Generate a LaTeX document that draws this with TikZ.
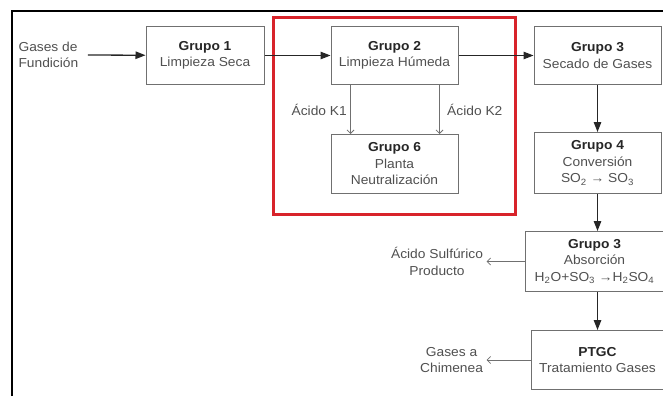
\documentclass[tikz,border=0pt]{standalone}
\usepackage{fontspec}
\setmainfont{Liberation Sans}[FakeStretch=1.06]
\usetikzlibrary{positioning,arrows.meta}
\definecolor{boxgray}{HTML}{707070}
\definecolor{txtgray}{HTML}{505050}
\definecolor{framered}{HTML}{D8232A}
\newcommand{\grtitle}[1]{\textcolor{black!85}{\textbf{#1}}}

\begin{document}
\begin{tikzpicture}[x=1pt,y=-1pt,
        font=\fontsize{13}{16.5}\selectfont,
        grupo/.style={draw=boxgray,line width=1pt,align=center,inner sep=0pt,
            minimum width=127pt,minimum height=58pt,text=txtgray},
        note/.style={align=center,text=txtgray},
        flow/.style={-{Triangle[length=10pt,width=7.5pt]},line width=1.3pt,draw=black!85},
        side/.style={-{Straight Barb[length=3.5pt,width=7pt]},draw=boxgray,line width=0.8pt}]
    \useasboundingbox (0,0) rectangle (663,396);
    \draw[line width=2.5pt] (12,396) -- (12,11) -- (663,11);

    \node[grupo,minimum width=118pt] (g1) at (205,55.5) {\grtitle{Grupo 1}\\Limpieza Seca};
    \node[grupo] (g2) [right=66pt of g1] {\grtitle{Grupo 2}\\Limpieza Húmeda};
    \node[grupo] (g3) [right=75pt of g2] {\grtitle{Grupo 3}\\Secado de Gases};
    \node[grupo,minimum height=59pt] (g6) [below=49pt of g2] {\grtitle{Grupo 6}\\Planta\\Neutralización};
    \node[grupo,minimum height=61pt] (g4) [below=47pt of g3] {\grtitle{Grupo 4}\\Conversión\\SO\textsubscript{2} → SO\textsubscript{3}};
    \node[grupo,minimum width=139pt,minimum height=60pt] (abs) [below=37pt of g4,xshift=-3pt]
        {\grtitle{Grupo 3}\\Absorción\\H\textsubscript{2}O+SO\textsubscript{3} →H\textsubscript{2}SO\textsubscript{4}};
    \node[grupo,minimum width=133pt,minimum height=59pt] (ptgc) [below=38pt of abs,xshift=3pt] {\grtitle{PTGC}\\Tratamiento Gases};

    \node[note,align=left,anchor=west] (src) at (15,55) {Gases de\\Fundición};
    \node[note] (acid) [left=38pt of abs] {Ácido Sulfúrico\\Producto};
    \node[note] (chim) [left=44pt of ptgc] {Gases a\\Chimenea};

    \draw[framered,line width=3pt] (273,18) rectangle (515,214);

    \draw[flow] ([xshift=6pt]src.east) -- (g1);
    \draw[flow] (g1) -- (g2);
    \draw[flow] (g2) -- (g3);
    \draw[flow] (g3) -- (g4);
    \draw[flow] (g4.south) -- (g4.south |- abs.north);
    \draw[flow] (ptgc.north |- abs.south) -- (ptgc.north);

    \draw[side] ([xshift=20pt]g2.south west) -- node[note,left] {Ácido K1} ([xshift=20pt]g6.north west);
    \draw[side] ([xshift=-19pt]g2.south east) -- node[note,right,xshift=4pt] {Ácido K2} ([xshift=-19pt]g6.north east);
    \draw[side] (abs) -- (acid);
    \draw[side] (ptgc) -- (chim);
\end{tikzpicture}
\end{document}
